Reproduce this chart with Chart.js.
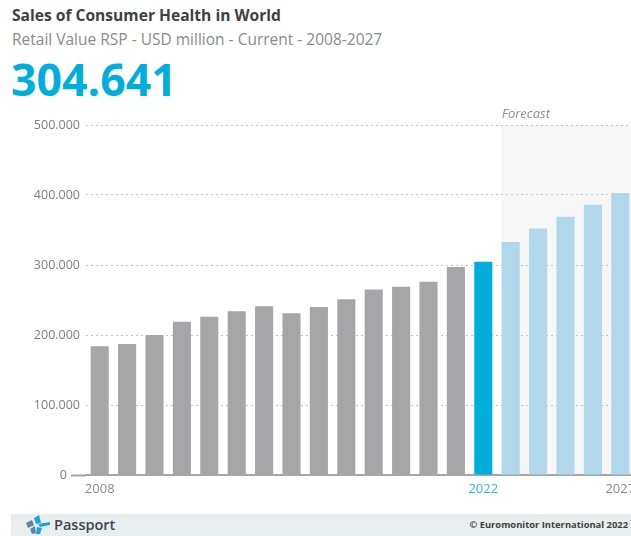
<!DOCTYPE html>
<html>
<head>
<meta charset="utf-8">
<title>Sales of Consumer Health in World</title>
<script src="https://cdn.jsdelivr.net/npm/chart.js@4"></script>
<style>
	html, body { margin: 0; padding: 0; background: #fff; overflow: hidden; }
	body { width: 631px; height: 536px; position: relative; font-family: "Open Sans", sans-serif; }
	#title { position: absolute; left: 12px; top: 4px; font-size: 15.6px; font-weight: 700; color: #3f3f3f; white-space: nowrap; }
	#subtitle { position: absolute; left: 12px; top: 28px; font-size: 15.5px; color: #8a8a8a; white-space: nowrap; }
	#headline { position: absolute; left: 11px; top: 49px; font-size: 44.6px; line-height: 60px; font-weight: 700; color: #00aedb; white-space: nowrap; }
	#chartBox { position: absolute; left: 0; top: 100px; width: 631px; height: 410px; overflow: hidden; }
	#footer { position: absolute; left: 11px; top: 514px; width: 620px; height: 22px; background: #e8eeee; }
	#logo { position: absolute; left: 14px; top: 1px; }
	#brand { position: absolute; left: 43px; top: 0; font-size: 14.5px; line-height: 22px; font-weight: 600; color: #3a4650; }
	#copy { position: absolute; right: 3px; top: 0; font-size: 9.4px; line-height: 22px; font-weight: 700; color: #3f3f3f; white-space: nowrap; }
</style>
</head>
<body>
	<div id="title">Sales of Consumer Health in World</div>
	<div id="subtitle">Retail Value RSP - USD million - Current - 2008-2027</div>
	<div id="headline">304.641</div>
	<div id="chartBox"><canvas id="salesChart" width="634" height="410"></canvas></div>
	<div id="footer">
		<svg id="logo" width="26" height="20" viewBox="0 0 26 20">
			<polygon points="1,8 7,5 9,10 3,13" fill="#5b86a8"/>
			<polygon points="5,14 10,11 11,18 7,19" fill="#5b86a8"/>
			<polygon points="9,3 14,0 16,8 11,9" fill="#1aa6d6"/>
			<polygon points="13,9 25,7 25,10 15,12" fill="#1aa6d6"/>
			<polygon points="12,12 17,13 15,19 11,19" fill="#1aa6d6"/>
		</svg>
		<div id="brand">Passport</div>
		<div id="copy">© Euromonitor International 2022</div>
	</div>

	<script>
		// ===== DATA =====
		const years = ['2008', '2009', '2010', '2011', '2012', '2013', '2014', '2015', '2016', '2017',
			'2018', '2019', '2020', '2021', '2022', '2023', '2024', '2025', '2026', '2027'];
		const salesValues = [184000, 187000, 200000, 219000, 226000, 234000, 241000, 231000, 240000, 251000,
			265000, 269000, 276000, 297000, 304641, 333000, 352000, 369000, 386000, 403000];
		const labelledYears = ['2008', '2022', '2027'];
		const currentYear = '2022';
		const forecastStart = '2023';
		const forecastLabel = 'Forecast';

		const GREY = '#a6a6a8';
		const BLUE = '#00aedb';
		const LIGHT_BLUE = '#b0d7ea';
		const FONT_FAMILY = '"Open Sans", sans-serif';

		function barColor(ctx) {
			const year = years[ctx.dataIndex];
			if (year === currentYear) return BLUE;
			return year > currentYear ? LIGHT_BLUE : GREY;
		}

		// thousands are separated with a dot on the value axis
		function formatValue(value) {
			if (value === 0) return '0    ';
			return String(value / 1000) + '.000';
		}

		// shaded band behind the forecast years, with its caption on top
		const forecastBand = {
			id: 'forecastBand',
			beforeDraw(chart) {
				const { ctx, chartArea, scales } = chart;
				const left = scales.x.getPixelForValue(years.indexOf(forecastStart)) - 9;
				ctx.save();
				ctx.fillStyle = '#f6f6f6';
				ctx.fillRect(left, chartArea.top, chartArea.right - left, chartArea.bottom - chartArea.top);
				ctx.fillStyle = '#8e8e8e';
				ctx.font = 'italic 13px ' + FONT_FAMILY;
				ctx.textBaseline = 'bottom';
				ctx.fillText(forecastLabel, left, chartArea.top - 4);
				ctx.restore();
			}
		};

		new Chart(document.getElementById('salesChart').getContext('2d'), {
			type: 'bar',
			data: {
				labels: years,
				datasets: [{
					data: salesValues,
					backgroundColor: barColor,
					barPercentage: 0.66,
					categoryPercentage: 1
				}]
			},
			plugins: [forecastBand],
			options: {
				responsive: false,
				animation: false,
				layout: { padding: { top: 25, left: 0, right: 0, bottom: 0 } },
				plugins: {
					legend: { display: false },
					tooltip: { enabled: false }
				},
				scales: {
					x: {
						afterFit(axis) { axis.height = 35; },
						grid: { display: false },
						border: { color: '#a6a6a6', width: 2 },
						ticks: {
							autoSkip: false,
							maxRotation: 0,
							padding: -2,
							font: { family: FONT_FAMILY, size: 13 },
							color: ctx => years[ctx.index] === currentYear ? '#35b6dc' : '#8a8a8a',
							callback(value, index) {
								const year = years[index];
								return labelledYears.includes(year) ? year : '';
							}
						}
					},
					y: {
						min: 0,
						max: 500000,
						afterFit(axis) { axis.width = 86; },
						// in v4 the dash of the grid lines lives on the border
						border: { display: false, dash: [2, 3] },
						grid: {
							color: '#c4c4c4',
							tickLength: 15,
							tickColor: ctx => ctx.tick.value === 0 ? '#a6a6a6' : 'rgba(0,0,0,0)',
							tickBorderDash: [],
							tickWidth: 2
						},
						ticks: {
							stepSize: 100000,
							padding: -9,
							font: { family: FONT_FAMILY, size: 12.5 },
							color: '#7d7d7d',
							callback: formatValue
						}
					}
				},
				elements: { bar: { borderWidth: 0 } }
			}
		});
	</script>
</body>
</html>
